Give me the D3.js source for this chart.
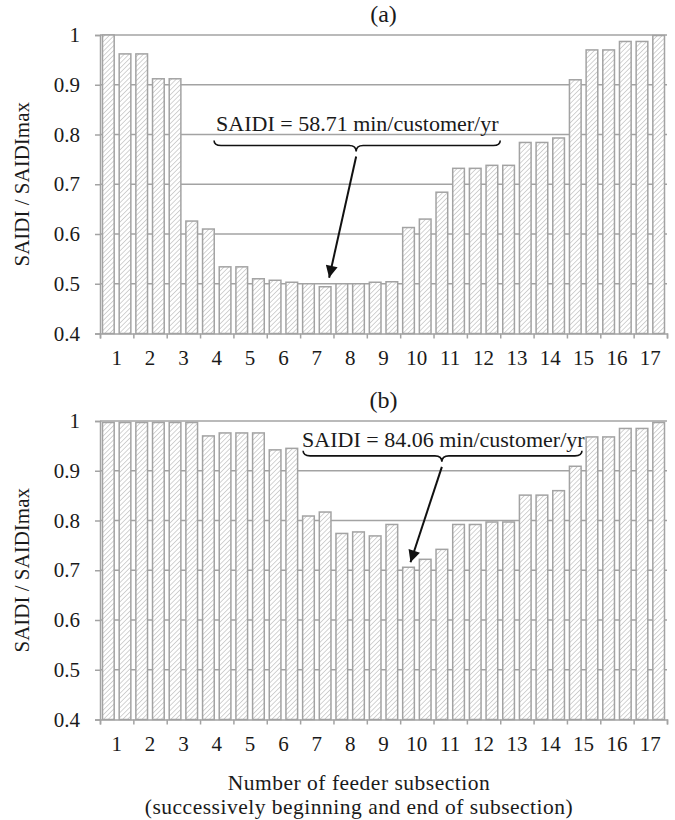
<!DOCTYPE html>
<html>
<head>
<meta charset="utf-8">
<script src="https://cdn.jsdelivr.net/npm/d3@7/dist/d3.min.js"></script>
<style>
body { margin: 0; background: #fff; }
text { font-family: "Liberation Serif", "Times New Roman", serif; fill: #1a1a1a; }
</style>
</head>
<body>
<script>
// data: two bars per feeder subsection (beginning, end)
var categories = d3.range(1, 18);
var saidiA = [1.0, 0.962, 0.962, 0.912, 0.912, 0.626, 0.610, 0.534, 0.534, 0.510,
              0.507, 0.503, 0.500, 0.494, 0.500, 0.500, 0.503, 0.504,
              0.613, 0.630, 0.684, 0.732, 0.732, 0.738, 0.738, 0.784, 0.784, 0.793,
              0.910, 0.970, 0.970, 0.987, 0.987, 0.999];
var saidiB = [0.997, 0.997, 0.997, 0.997, 0.997, 0.997, 0.970, 0.976, 0.976, 0.976,
              0.942, 0.945, 0.809, 0.817, 0.774, 0.777, 0.769, 0.792,
              0.706, 0.722, 0.742, 0.792, 0.792, 0.797, 0.797, 0.851, 0.851, 0.860,
              0.909, 0.968, 0.968, 0.985, 0.985, 0.997];
var yTicks = [0.4, 0.5, 0.6, 0.7, 0.8, 0.9, 1];
var panelTitles = ["(a)", "(b)"];
var saidiNotes = ["SAIDI = 58.71 min/customer/yr", "SAIDI = 84.06 min/customer/yr"];
var yLabel = "SAIDI / SAIDImax";
var xLabel = ["Number of feeder subsection", "(successively beginning and end of subsection)"];

var W = 675, H = 820;
var left = 100, right = 667;
var gridColor = "#a3a3a3";

var svg = d3.select("body").append("svg")
    .attr("width", W)
    .attr("height", H);

var defs = svg.append("defs");
var pat = defs.append("pattern")
    .attr("id", "hatch")
    .attr("patternUnits", "userSpaceOnUse")
    .attr("width", 3.4)
    .attr("height", 3.4)
    .attr("patternTransform", "rotate(45)");
pat.append("rect").attr("width", 3.4).attr("height", 3.4).attr("fill", "#fff");
pat.append("line")
    .attr("x1", 0).attr("y1", 0).attr("x2", 0).attr("y2", 3.4)
    .attr("stroke", "#bdbdbd").attr("stroke-width", 1.3);

defs.append("marker")
    .attr("id", "arrow")
    .attr("viewBox", "0 0 10 10")
    .attr("refX", 10).attr("refY", 5)
    .attr("markerUnits", "userSpaceOnUse")
    .attr("markerWidth", 16).attr("markerHeight", 12)
    .attr("orient", "auto")
    .append("path")
    .attr("d", "M0,0 L10,5 L0,10 Z")
    .attr("fill", "#111");

// x scales shared by both panels
var xBar = d3.scaleBand()
    .domain(d3.range(34))
    .range([left, right])
    .paddingInner(0.3)
    .paddingOuter(0.15);
var xCat = d3.scaleBand()
    .domain(categories)
    .range([left, right])
    .padding(0);
var xLin = d3.scaleLinear()
    .domain([0, 17])
    .range([left, right]);

// brace with a downward cusp
function bracePath(x0, x1, xm, y) {
    var r = 7;
    return "M" + x0 + "," + (y - 5) +
        " Q" + x0 + "," + y + " " + (x0 + r) + "," + y +
        " L" + (xm - r) + "," + y +
        " Q" + xm + "," + y + " " + xm + "," + (y + 6) +
        " Q" + xm + "," + y + " " + (xm + r) + "," + y +
        " L" + (x1 - r) + "," + y +
        " Q" + x1 + "," + y + " " + x1 + "," + (y - 5);
}

function drawPanel(values, top, title, note, ann) {
    var bottom = top + 298.5;
    var y = d3.scaleLinear().domain([0.4, 1]).range([bottom, top]);
    var g = svg.append("g");

    // gridlines
    g.selectAll(".grid")
        .data(yTicks.filter(function(d) { return d > 0.4; }))
        .enter().append("line")
        .attr("x1", left).attr("x2", right)
        .attr("y1", function(d) { return y(d); })
        .attr("y2", function(d) { return y(d); })
        .attr("stroke", gridColor)
        .attr("stroke-width", 1.5);

    // bars
    g.selectAll(".bar")
        .data(values)
        .enter().append("rect")
        .attr("x", function(d, i) { return xBar(i); })
        .attr("width", xBar.bandwidth())
        .attr("y", function(d) { return y(d); })
        .attr("height", function(d) { return bottom - y(d); })
        .attr("fill", "url(#hatch)")
        .attr("stroke", "#a3a3a3")
        .attr("stroke-width", 1.5);

    // y axis
    var ya = g.append("g")
        .attr("transform", "translate(" + left + ",0)")
        .call(d3.axisLeft(y).tickValues(yTicks).tickSize(5).tickPadding(15)
            .tickFormat(function(d) { return d === 1 ? "1" : d.toFixed(1); }));
    ya.selectAll("path, line").attr("stroke", gridColor).attr("stroke-width", 1.5);
    ya.selectAll("text").attr("font-size", "21px").attr("font-family", "Liberation Serif").attr("fill", "#1a1a1a");

    // x axis: tick marks at subsection boundaries
    var xt = g.append("g")
        .attr("transform", "translate(0," + bottom + ")")
        .call(d3.axisBottom(xLin).tickValues(d3.range(18)).tickSize(5).tickFormat(""));
    xt.selectAll("path, line").attr("stroke", gridColor).attr("stroke-width", 1.5);

    // x labels at subsection centres
    var xl = g.append("g")
        .attr("transform", "translate(0," + bottom + ")")
        .call(d3.axisBottom(xCat).tickSize(0).tickPadding(17));
    xl.select(".domain").remove();
    xl.selectAll("text").attr("font-size", "21px").attr("font-family", "Liberation Serif").attr("fill", "#1a1a1a");

    // panel title
    g.append("text")
        .attr("x", (left + right) / 2)
        .attr("y", top - 13)
        .attr("text-anchor", "middle")
        .attr("font-size", "24px")
        .text(title);

    // y label
    g.append("text")
        .attr("transform", "translate(29," + (top + bottom) / 2 + ") rotate(-90)")
        .attr("text-anchor", "middle")
        .attr("font-size", "21px")
        .text(yLabel);

    // annotation: text, brace and arrow
    g.append("text")
        .attr("x", xLin(ann.x0) + ann.tx)
        .attr("y", y(ann.textY))
        .attr("font-size", "22px")
        .text(note);
    var by = y(ann.braceY);
    g.append("path")
        .attr("d", bracePath(xLin(ann.x0), xLin(ann.x1), xLin(ann.xm), by))
        .attr("fill", "none")
        .attr("stroke", "#111")
        .attr("stroke-width", 1.6);
    var bi = ann.bar;
    g.append("line")
        .attr("x1", xLin(ann.xm)).attr("y1", by + 11)
        .attr("x2", xBar(bi) + xBar.bandwidth() / 2 + ann.dx)
        .attr("y2", y(values[bi]) - ann.gap)
        .attr("stroke", "#111")
        .attr("stroke-width", 2)
        .attr("marker-end", "url(#arrow)");
}

drawPanel(saidiA, 35, panelTitles[0], saidiNotes[0],
    {x0: 3.42, x1: 12.0, xm: 7.68, braceY: 0.778, textY: 0.807, tx: 2, bar: 13, dx: 4, gap: 9});
drawPanel(saidiB, 421, panelTitles[1], saidiNotes[1],
    {x0: 6.09, x1: 14.45, xm: 10.25, braceY: 0.930, textY: 0.948, tx: -1, bar: 18, dx: 2, gap: 5});

// shared x axis title
var xTitle = svg.append("g")
    .attr("font-size", "21.5px")
    .attr("letter-spacing", "0.5px")
    .attr("text-anchor", "middle");
xTitle.append("text")
    .attr("x", 359)
    .attr("y", 790)
    .text(xLabel[0]);
xTitle.append("text")
    .attr("x", 359)
    .attr("y", 814)
    .text(xLabel[1]);
</script>
</body>
</html>
